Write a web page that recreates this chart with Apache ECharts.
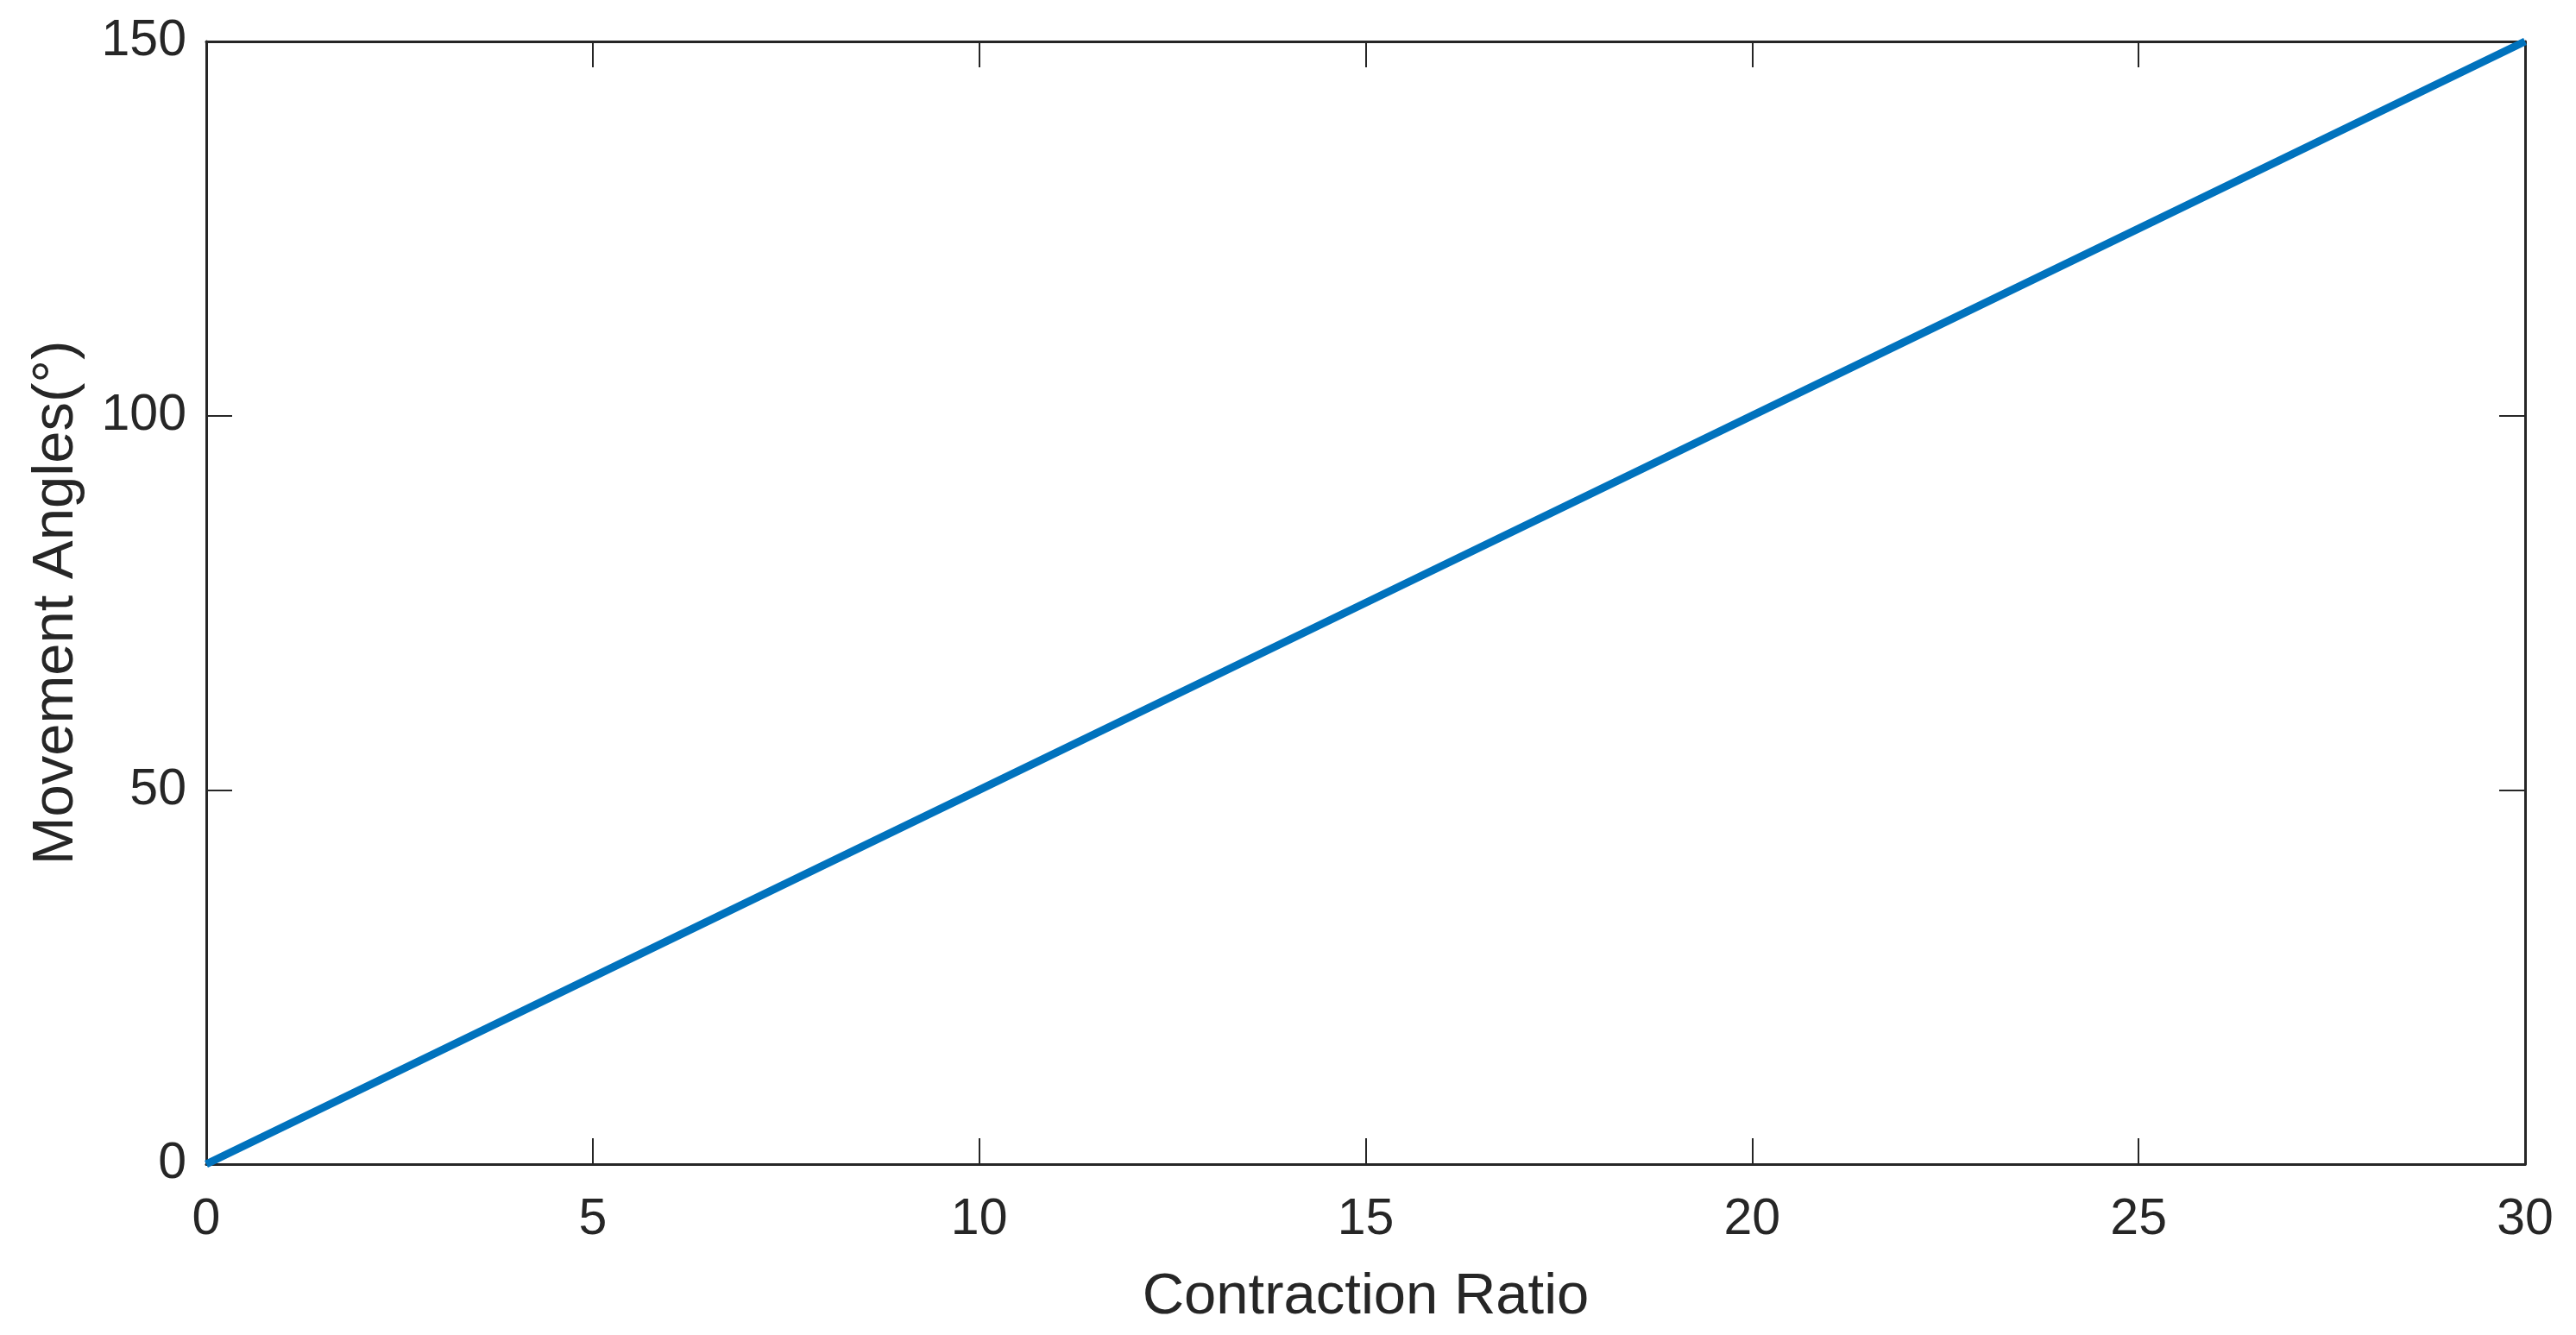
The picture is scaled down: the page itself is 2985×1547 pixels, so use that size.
<!DOCTYPE html>
<html>
<head>
<meta charset="utf-8">
<script src="https://cdn.jsdelivr.net/npm/echarts@6/dist/echarts.min.js"></script>
<style>
html,body{margin:0;padding:0;background:#fff;}
#chart{width:2985px;height:1547px;}
</style>
</head>
<body>
<div id="chart"></div>
<script>
const contractionRatio = [0, 5, 10, 15, 20, 25, 30];
const movementAngles = [0, 25, 50, 75, 100, 125, 150];
const xTitle = 'Contraction Ratio';
const yTitle = 'Movement Angles(°)';

const FONT = '"Liberation Sans", Arial, Helvetica, sans-serif';
const INK = '#262626';

const chart = echarts.init(document.getElementById('chart'), null, {renderer: 'canvas'});
const tickStyle = {show: true, inside: true, length: 30, lineStyle: {color: INK, width: 2}};
const lineStyle = {show: true, onZero: false, lineStyle: {color: INK, width: 3}};

chart.setOption({
  backgroundColor: '#ffffff',
  animation: false,
  grid: {left: 239, right: 59, top: 48, bottom: 198, containLabel: false},
  xAxis: [{
    type: 'value', min: 0, max: 30, interval: 5, position: 'bottom',
    name: xTitle, nameLocation: 'middle', nameGap: 121,
    nameTextStyle: {fontFamily: FONT, fontSize: 67, color: INK},
    axisLine: lineStyle, axisTick: tickStyle, splitLine: {show: false},
    axisLabel: {fontFamily: FONT, fontSize: 59, color: INK, margin: 35, showMinLabel: true, showMaxLabel: true}
  }, {
    type: 'value', min: 0, max: 30, interval: 5, position: 'top',
    axisLine: lineStyle, axisTick: tickStyle, splitLine: {show: false}, axisLabel: {show: false}
  }],
  yAxis: [{
    type: 'value', min: 0, max: 150, interval: 50, position: 'left',
    name: yTitle, nameLocation: 'middle', nameGap: 140,
    nameTextStyle: {fontFamily: FONT, fontSize: 67, color: INK},
    axisLine: lineStyle, axisTick: tickStyle, splitLine: {show: false},
    axisLabel: {fontFamily: FONT, fontSize: 59, color: INK, margin: 23, showMinLabel: true, showMaxLabel: true}
  }, {
    type: 'value', min: 0, max: 150, interval: 50, position: 'right',
    axisLine: lineStyle, axisTick: tickStyle, splitLine: {show: false}, axisLabel: {show: false}
  }],
  series: [{
    type: 'line',
    data: contractionRatio.map((x, i) => [x, movementAngles[i]]),
    showSymbol: false,
    symbol: 'none',
    lineStyle: {color: '#0072BD', width: 9},
    clip: false
  }]
});
</script>
</body>
</html>
